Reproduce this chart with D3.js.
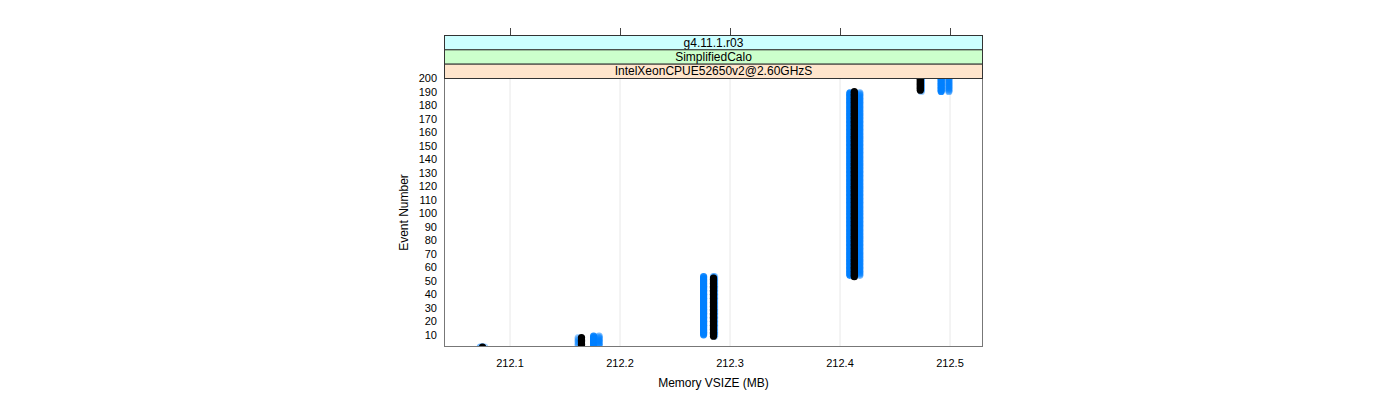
<!DOCTYPE html>
<html><head><meta charset="utf-8">
<script src="https://cdn.jsdelivr.net/npm/d3@7"></script>
<style>body{margin:0;background:#fff}svg{display:block;font-family:"Liberation Sans",Arial,sans-serif}</style>
</head><body>
<svg id="c" width="1400" height="400"></svg>
<script>
// ---- data ----
const stripLabels = ["g4.11.1.r03", "SimplifiedCalo", "IntelXeonCPUE52650v2@2.60GHzS"];
const xTicks = [212.1, 212.2, 212.3, 212.4, 212.5];
const yTicks = [10,20,30,40,50,60,70,80,90,100,110,120,130,140,150,160,170,180,190,200];
const nEvents = 200;
// each run: event where a memory step begins, and the memory value (MB) from there on
const blueRunAStart = [1, 2, 10, 54, 190];
const blueRunAValue = [212.075, 212.176, 212.276, 212.409, 212.492];
const blueRunBStart = [1, 2, 10, 54, 190];
const blueRunBValue = [212.073, 212.181, 212.285, 212.418, 212.499];
const blueRunCStart = [1, 2, 9, 54, 190];
const blueRunCValue = [212.077, 212.162, 212.286, 212.414, 212.474];
const blackRunStart = [1, 2, 9, 53, 191];
const blackRunValue = [212.075, 212.165, 212.285, 212.413, 212.473];

function expand(starts, values){
  const out = [];
  for (let e = 1; e <= nEvents; e++){
    let k = 0;
    for (let i = 0; i < starts.length; i++) if (e >= starts[i]) k = i;
    out.push({ev: e, mem: values[k]});
  }
  return out;
}
const series = [
  {pts: expand(blueRunCStart, blueRunCValue), fill: "#0080ff", op: 0.35},
  {pts: expand(blueRunAStart, blueRunAValue), fill: "#0080ff", op: 0.9},
  {pts: expand(blueRunBStart, blueRunBValue), fill: "#0080ff", op: 0.55},
  {pts: expand(blackRunStart, blackRunValue), fill: "#000000", op: 1}
];

// ---- layout ----
const svg = d3.select("#c");
const L = 444, R = 983, T = 78, B = 347;
const stripTop = 35, stripH = (T - stripTop) / 3;
const x = d3.scaleLinear().domain([212.04, 212.53]).range([L, R]);
const y = d3.scaleLinear().domain([1, 200]).range([B, T]);

// grid
svg.append("g").selectAll("line").data(xTicks).join("line")
  .attr("x1", d => x(d)).attr("x2", d => x(d)).attr("y1", T).attr("y2", B)
  .attr("stroke", "#e8e8e8").attr("stroke-width", 1);

// points
svg.append("clipPath").attr("id","pc").append("rect")
  .attr("x", L).attr("y", T).attr("width", R-L).attr("height", B-T);
const pg = svg.append("g").attr("clip-path","url(#pc)");
series.forEach(s => {
  pg.append("g").selectAll("circle").data(s.pts).join("circle")
    .attr("cx", d => x(d.mem)).attr("cy", d => y(d.ev)).attr("r", 3.6)
    .attr("fill", s.fill).attr("fill-opacity", s.op);
});

// panel border
svg.append("rect").attr("x", L+0.5).attr("y", T+0.5).attr("width", R-L-1).attr("height", B-T-1)
  .attr("fill","none").attr("stroke","#777");

// strips
const stripCols = ["#ccffff", "#ccffcc", "#ffe5cc"];
stripLabels.forEach((lab, i) => {
  const yy = stripTop + i*stripH;
  svg.append("rect").attr("x", L+0.5).attr("y", yy+0.5).attr("width", R-L-1).attr("height", stripH)
    .attr("fill", stripCols[i]).attr("stroke", "#333");
  svg.append("text").attr("x", (L+R)/2).attr("y", yy + stripH/2 + 4.5)
    .attr("text-anchor","middle").attr("font-size", 12).attr("fill","#000").text(lab);
});

// top ticks
svg.append("g").selectAll("line").data(xTicks).join("line")
  .attr("x1", d => Math.round(x(d))+0.5).attr("x2", d => Math.round(x(d))+0.5)
  .attr("y1", stripTop).attr("y2", stripTop-7).attr("stroke","#444");

// bottom labels
svg.append("g").selectAll("text").data(xTicks).join("text")
  .attr("x", d => x(d)).attr("y", 367).attr("text-anchor","middle")
  .attr("font-size", 11).text(d => d3.format(".1f")(d));

// left labels
svg.append("g").selectAll("text").data(yTicks).join("text")
  .attr("x", 437).attr("y", d => y(d) + 4).attr("text-anchor","end")
  .attr("font-size", 11).text(d => d);

// axis titles
svg.append("text").attr("x", (L+R)/2).attr("y", 387).attr("text-anchor","middle")
  .attr("font-size", 12).text("Memory VSIZE (MB)");
svg.append("text").attr("transform", `translate(408,${(T+B)/2}) rotate(-90)`)
  .attr("text-anchor","middle").attr("font-size", 12).text("Event Number");
</script>
</body></html>
